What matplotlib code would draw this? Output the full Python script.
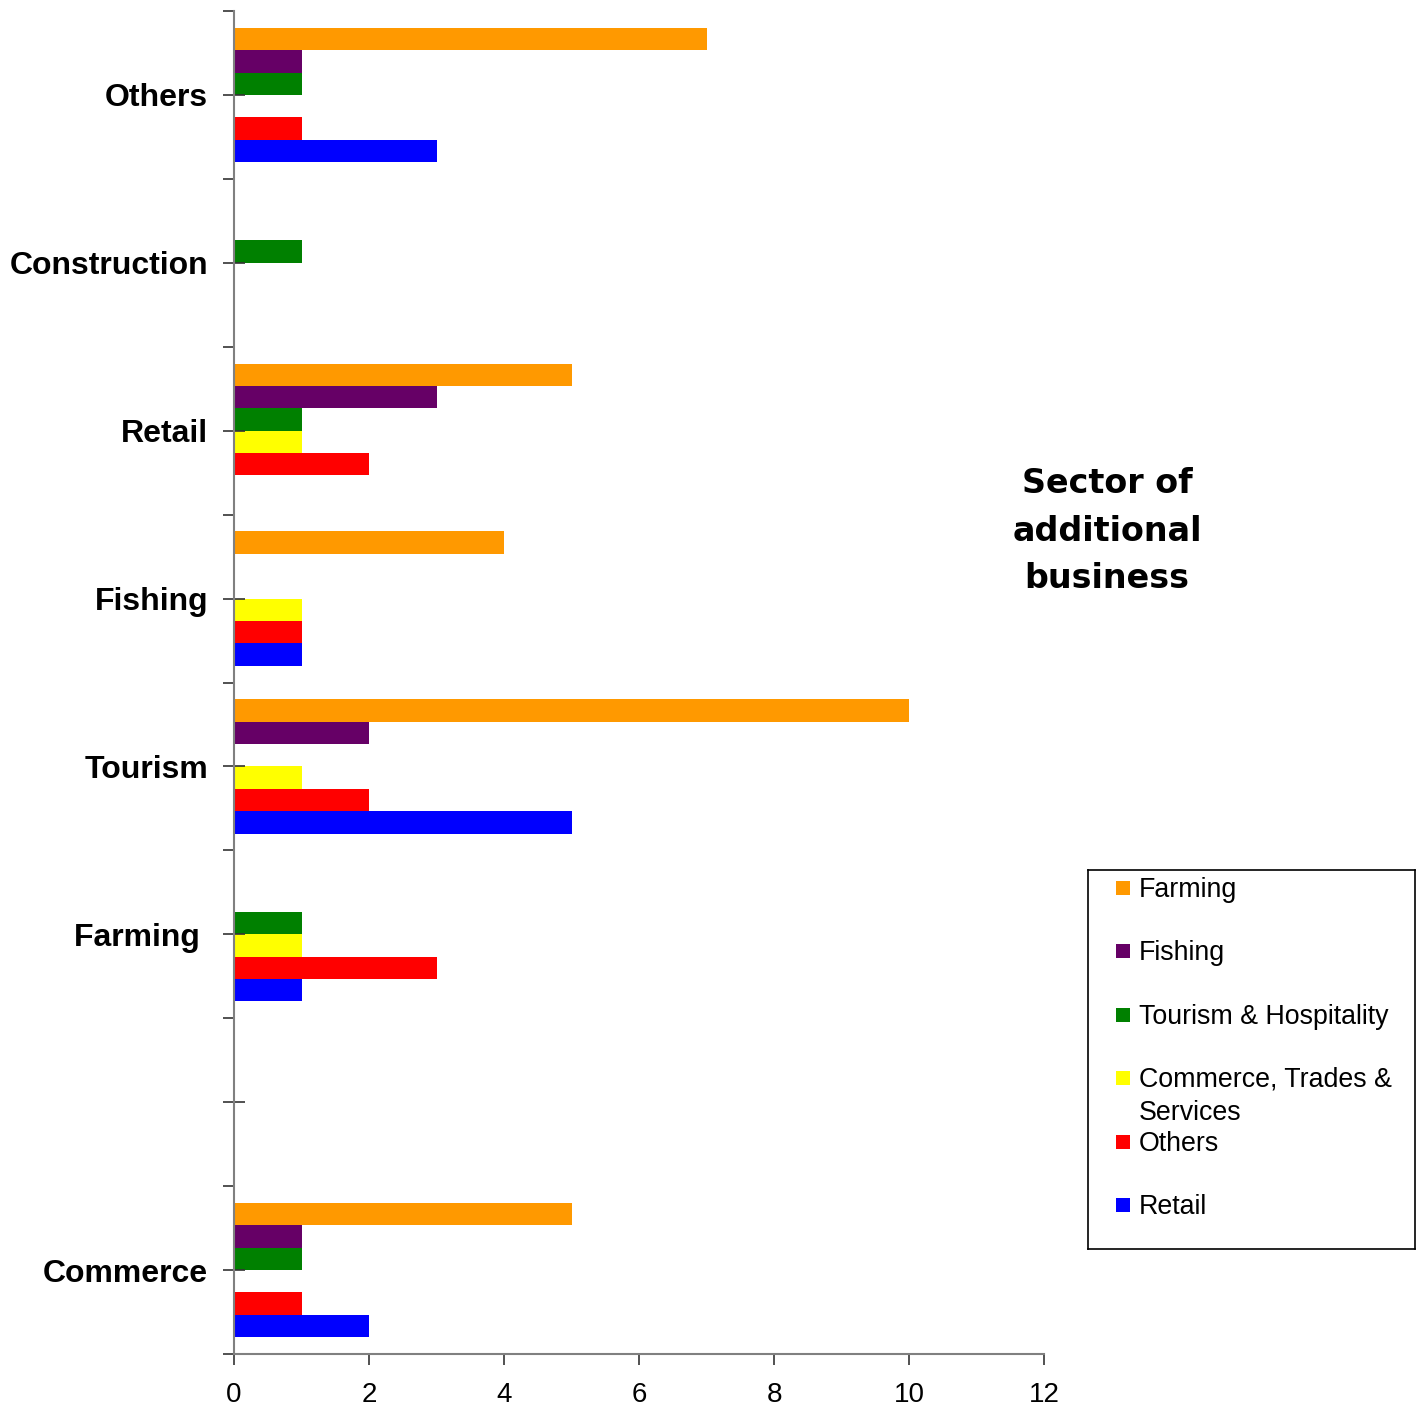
import numpy as np
import matplotlib.pyplot as plt
from matplotlib.patches import Rectangle

# categories from bottom to top
categories = ["Commerce", "", "Farming ", "Tourism", "Fishing", "Retail", "Construction", "Others"]

# series values, one per category (same order as above)
farming = [5, 0, 0, 10, 4, 5, 0, 7]
fishing = [1, 0, 0, 2, 0, 3, 0, 1]
tourism = [1, 0, 1, 0, 0, 1, 1, 1]
commerce = [0, 0, 1, 1, 1, 1, 0, 0]
others = [1, 0, 3, 2, 1, 2, 0, 1]
retail = [2, 0, 1, 5, 1, 0, 0, 3]

series_names = ["Farming", "Fishing", "Tourism & Hospitality",
                "Commerce, Trades &\nServices", "Others", "Retail"]
series_vals = [farming, fishing, tourism, commerce, others, retail]
colors = ["#FF9900", "#660066", "#008000", "#FFFF00", "#FF0000", "#0000FF"]

W, H = 1421, 1407
fig = plt.figure(figsize=(W / 100, H / 100), dpi=100)
ax = fig.add_axes([234 / W, 1 - 1354 / H, (1044 - 234) / W, (1354 - 11) / H])

y = np.arange(len(categories))
h = 0.8 / len(series_vals)
for i, (vals, col) in enumerate(zip(series_vals, colors)):
    # first series sits on top of each group
    offs = (2.5 - i) * h
    ax.barh(y + offs, vals, height=h, color=col, linewidth=0)

ax.set_xlim(0, 12)
ax.set_ylim(-0.5, len(categories) - 0.5)
ax.set_xticks(range(0, 13, 2))
ax.set_xticklabels([str(v) for v in range(0, 13, 2)], fontsize=20, family="Liberation Sans")
ax.tick_params(axis="x", direction="out", length=8, width=1.2, pad=12, color="#333333")

# boundaries as major ticks, category labels on minor ticks
ax.set_yticks(np.arange(-0.5, len(categories), 1.0))
ax.set_yticklabels([])
ax.tick_params(axis="y", which="major", direction="out", length=8, width=1.2, color="#333333")
ax.set_yticks(y, minor=True)
ax.set_yticklabels(categories, minor=True, fontsize=23, fontweight="bold",
                   family="Liberation Sans")
ax.tick_params(axis="y", which="minor", direction="inout", length=16, width=1.2,
               pad=10.5, color="#333333")

for s in ["top", "right"]:
    ax.spines[s].set_visible(False)
for s in ["left", "bottom"]:
    ax.spines[s].set_color("#808080")
    ax.spines[s].set_linewidth(1.5)

fig.text(1107 / W, 1 - 531 / H, "Sector of\nadditional\nbusiness", ha="center", va="center",
         fontsize=24, fontweight="bold", family="DejaVu Sans", linespacing=1.54)

# legend box
lax = fig.add_axes([1088 / W, 1 - 1249 / H, (1415 - 1088) / W, (1249 - 870) / H])
lax.set_xlim(0, 1415 - 1088)
lax.set_ylim(1249 - 870, 0)
lax.set_xticks([])
lax.set_yticks([])
for s in lax.spines.values():
    s.set_linewidth(1.2)
    s.set_color("black")
rows = [18, 81, 145, 208, 272, 335]
for name, col, ry in zip(series_names, colors, rows):
    lax.add_patch(Rectangle((28, ry - 7), 14, 14, facecolor=col, edgecolor="none"))
    lax.text(51, ry - 11, name, fontsize=19.3, family="Liberation Sans", va="top", ha="left",
             linespacing=1.37)

fig.savefig("out.png", dpi=100)
